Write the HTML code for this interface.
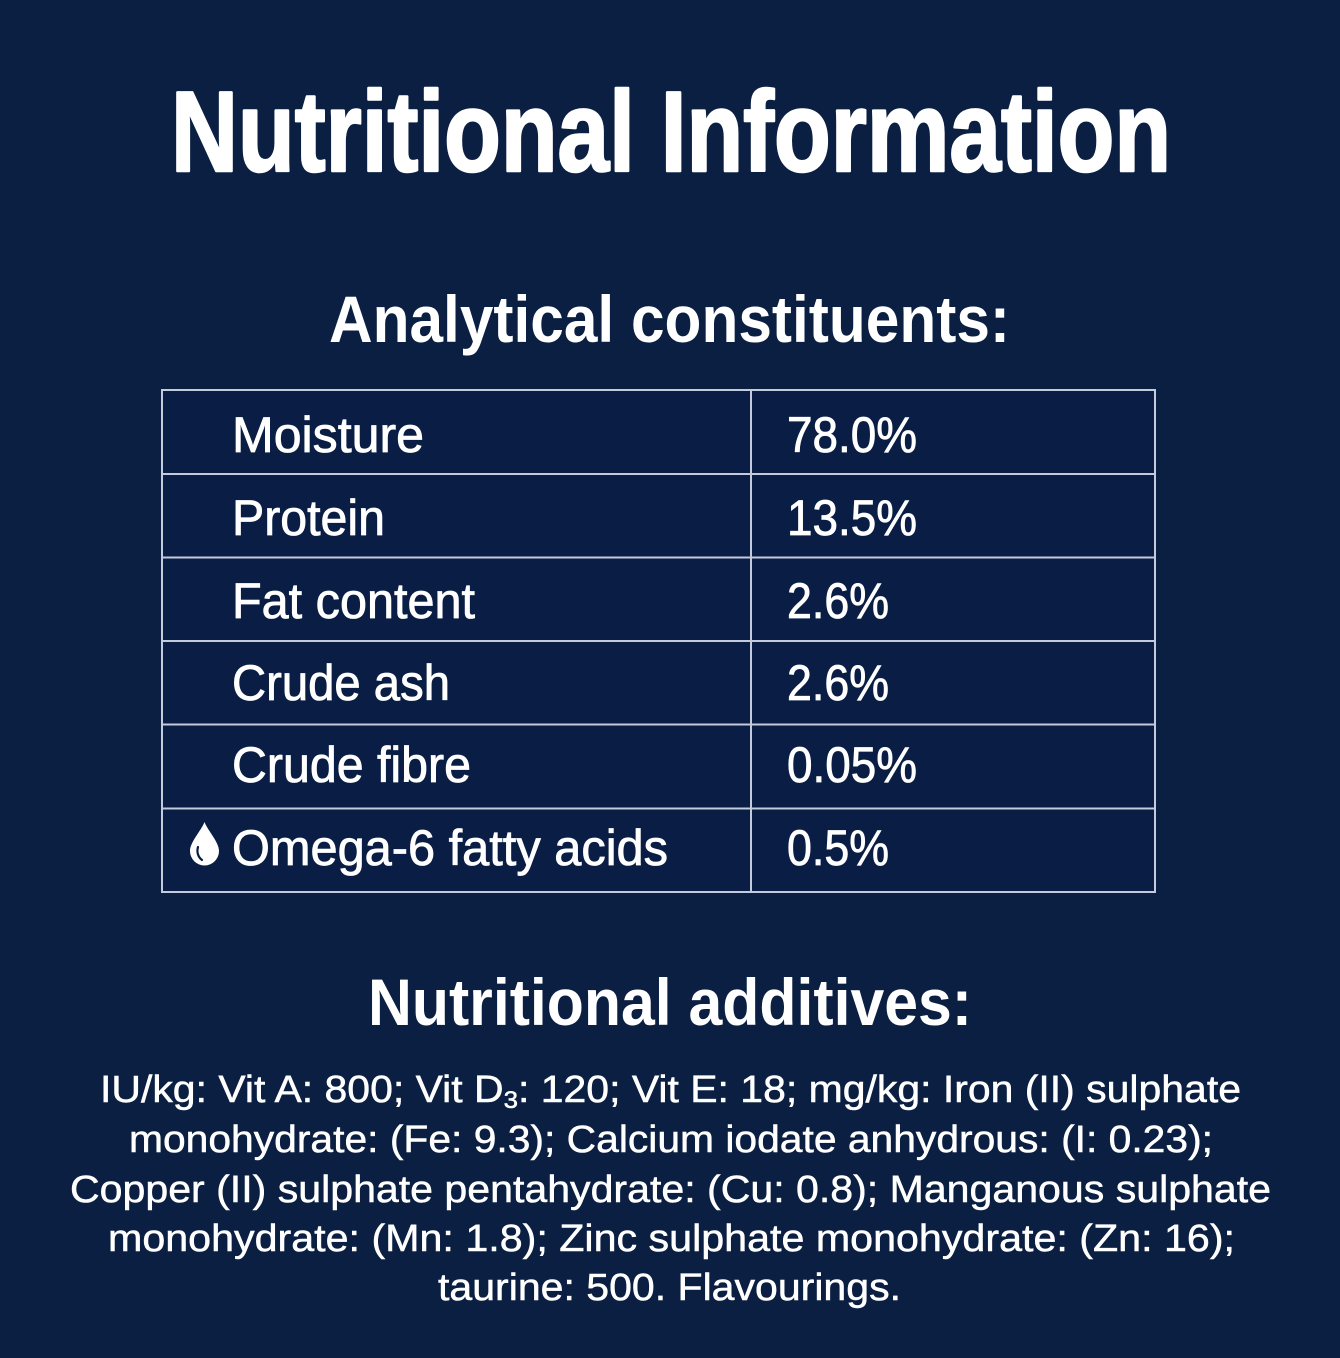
<!DOCTYPE html>
<html>
<head>
<meta charset="utf-8">
<style>
  html, body { margin: 0; padding: 0; background: #0b1f42; }
  body { width: 1340px; height: 1358px; overflow: hidden; }
  svg { display: block; }
  text { fill: #ffffff; font-family: "Liberation Sans", "DejaVu Sans", sans-serif; }
  .cell { font-size: 50px; stroke: #ffffff; stroke-width: 0.8px; }
  .para { font-size: 38px; stroke: #ffffff; stroke-width: 0.5px; }
  .title { stroke: #ffffff; stroke-width: 2.5px; stroke-linejoin: round; }
</style>
</head>
<body>
<svg width="1340" height="1358" viewBox="0 0 1340 1358" xmlns="http://www.w3.org/2000/svg">
  <rect x="0" y="0" width="1340" height="1358" fill="#0b1f42"/>

  <!-- Title -->
  <text class="title" x="171" y="171" font-size="114" font-weight="700" textLength="1000" lengthAdjust="spacingAndGlyphs">Nutritional Information</text>

  <!-- Heading 1 -->
  <text x="329" y="342" font-size="66" font-weight="700" textLength="681" lengthAdjust="spacingAndGlyphs">Analytical constituents:</text>

  <!-- Table -->
  <rect x="162" y="390" width="993" height="502" fill="#0a1e45" stroke="#c3cbdc" stroke-width="2"/>
  <g stroke="#c3cbdc" stroke-width="2">
    <line x1="162" y1="474" x2="1155" y2="474"/>
    <line x1="162" y1="557.5" x2="1155" y2="557.5"/>
    <line x1="162" y1="641" x2="1155" y2="641"/>
    <line x1="162" y1="724.5" x2="1155" y2="724.5"/>
    <line x1="162" y1="808.5" x2="1155" y2="808.5"/>
    <line x1="751" y1="390" x2="751" y2="892"/>
  </g>

  <text class="cell" x="232" y="452" textLength="192" lengthAdjust="spacingAndGlyphs">Moisture</text>
  <text class="cell" x="232" y="535" textLength="153" lengthAdjust="spacingAndGlyphs">Protein</text>
  <text class="cell" x="232" y="618" textLength="243" lengthAdjust="spacingAndGlyphs">Fat content</text>
  <text class="cell" x="232" y="700" textLength="218" lengthAdjust="spacingAndGlyphs">Crude ash</text>
  <text class="cell" x="232" y="782" textLength="239" lengthAdjust="spacingAndGlyphs">Crude fibre</text>
  <text class="cell" x="232" y="865" textLength="436" lengthAdjust="spacingAndGlyphs">Omega-6 fatty acids</text>

  <text class="cell" x="787" y="452" textLength="130" lengthAdjust="spacingAndGlyphs">78.0%</text>
  <text class="cell" x="787" y="535" textLength="130" lengthAdjust="spacingAndGlyphs">13.5%</text>
  <text class="cell" x="787" y="618" textLength="102" lengthAdjust="spacingAndGlyphs">2.6%</text>
  <text class="cell" x="787" y="700" textLength="102" lengthAdjust="spacingAndGlyphs">2.6%</text>
  <text class="cell" x="787" y="782" textLength="130" lengthAdjust="spacingAndGlyphs">0.05%</text>
  <text class="cell" x="787" y="865" textLength="102" lengthAdjust="spacingAndGlyphs">0.5%</text>

  <!-- Drop icon -->
  <path d="M204.5 822 C201 831 190 842 190 851 A14.5 14.5 0 0 0 219 851 C219 842 208 831 204.5 822 Z" fill="#ffffff"/>
  <path d="M198 847 C196.5 852 198 857 202 860" fill="none" stroke="#0a1e45" stroke-width="2.2" stroke-linecap="round"/>

  <!-- Heading 2 -->
  <text x="368" y="1025" font-size="66" font-weight="700" textLength="604" lengthAdjust="spacingAndGlyphs">Nutritional additives:</text>

  <!-- Paragraph -->
  <text class="para" x="100" y="1102" textLength="1141" lengthAdjust="spacingAndGlyphs">IU/kg: Vit A: 800; Vit D<tspan font-size="24" dy="6">3</tspan><tspan dy="-6">: 120; Vit E: 18; mg/kg: Iron (II) sulphate</tspan></text>
  <text class="para" x="129" y="1152" textLength="1084" lengthAdjust="spacingAndGlyphs">monohydrate: (Fe: 9.3); Calcium iodate anhydrous: (I: 0.23);</text>
  <text class="para" x="70" y="1202" textLength="1201" lengthAdjust="spacingAndGlyphs">Copper (II) sulphate pentahydrate: (Cu: 0.8); Manganous sulphate</text>
  <text class="para" x="108" y="1251" textLength="1127" lengthAdjust="spacingAndGlyphs">monohydrate: (Mn: 1.8); Zinc sulphate monohydrate: (Zn: 16);</text>
  <text class="para" x="438" y="1300" textLength="463" lengthAdjust="spacingAndGlyphs">taurine: 500. Flavourings.</text>
</svg>
</body>
</html>
